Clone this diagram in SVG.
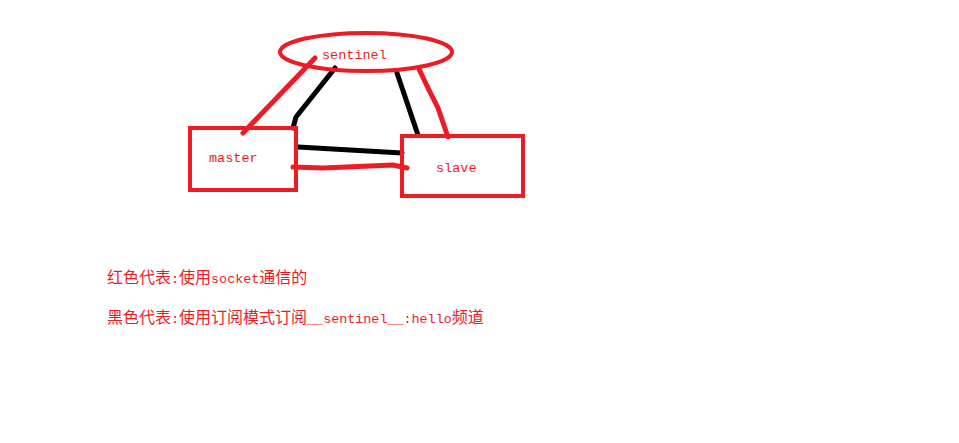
<svg xmlns="http://www.w3.org/2000/svg" width="959" height="443" viewBox="0 0 959 443">
<style>
.r{fill:none;stroke:#ED1C24;stroke-width:5;stroke-linecap:round;stroke-linejoin:round}
.k{fill:none;stroke:#000;stroke-width:5;stroke-linecap:round;stroke-linejoin:round}
.b{fill:none;stroke:#ED1C24;stroke-width:4}
.lbl{font-family:"Liberation Mono",monospace;font-size:13.5px;fill:#ED1C24}
.cap{font-family:"Noto Sans CJK SC",sans-serif;font-size:16px;fill:#ED1C24}
.a{font-family:"Liberation Mono",monospace;font-size:13.4px}
</style>
<rect width="959" height="443" fill="#fff"/>
<g id="connectors">
<polyline class="r" points="315,58 243,133"/>
<polyline class="k" points="335,68 296,117 293,128"/>
<polyline class="k" points="397,73 418,135"/>
<polyline class="r" points="419,69 428,88 438,108 448,137"/>
<polyline class="k" points="298,147 402,153"/>
<polyline class="r" points="293,167 323,168 393,165 407,168"/>
</g>
<g id="sentinel">
<ellipse class="b" cx="366" cy="52" rx="86" ry="19"/>
<text class="lbl" x="322" y="59">sentinel</text>
</g>
<g id="master">
<rect class="b" x="190" y="128" width="106" height="62"/>
<text class="lbl" x="209" y="162">master</text>
</g>
<g id="slave">
<rect class="b" x="402" y="136" width="121" height="60"/>
<text class="lbl" x="436" y="172">slave</text>
</g>
<g id="legend">
<text class="cap" x="107" y="283">红色代表<tspan class="a">:</tspan>使用<tspan class="a">socket</tspan>通信的</text>
<text class="cap" x="107" y="323">黑色代表<tspan class="a">:</tspan>使用订阅模式订阅<tspan class="a">__sentinel__:hello</tspan>频道</text>
</g>
</svg>
